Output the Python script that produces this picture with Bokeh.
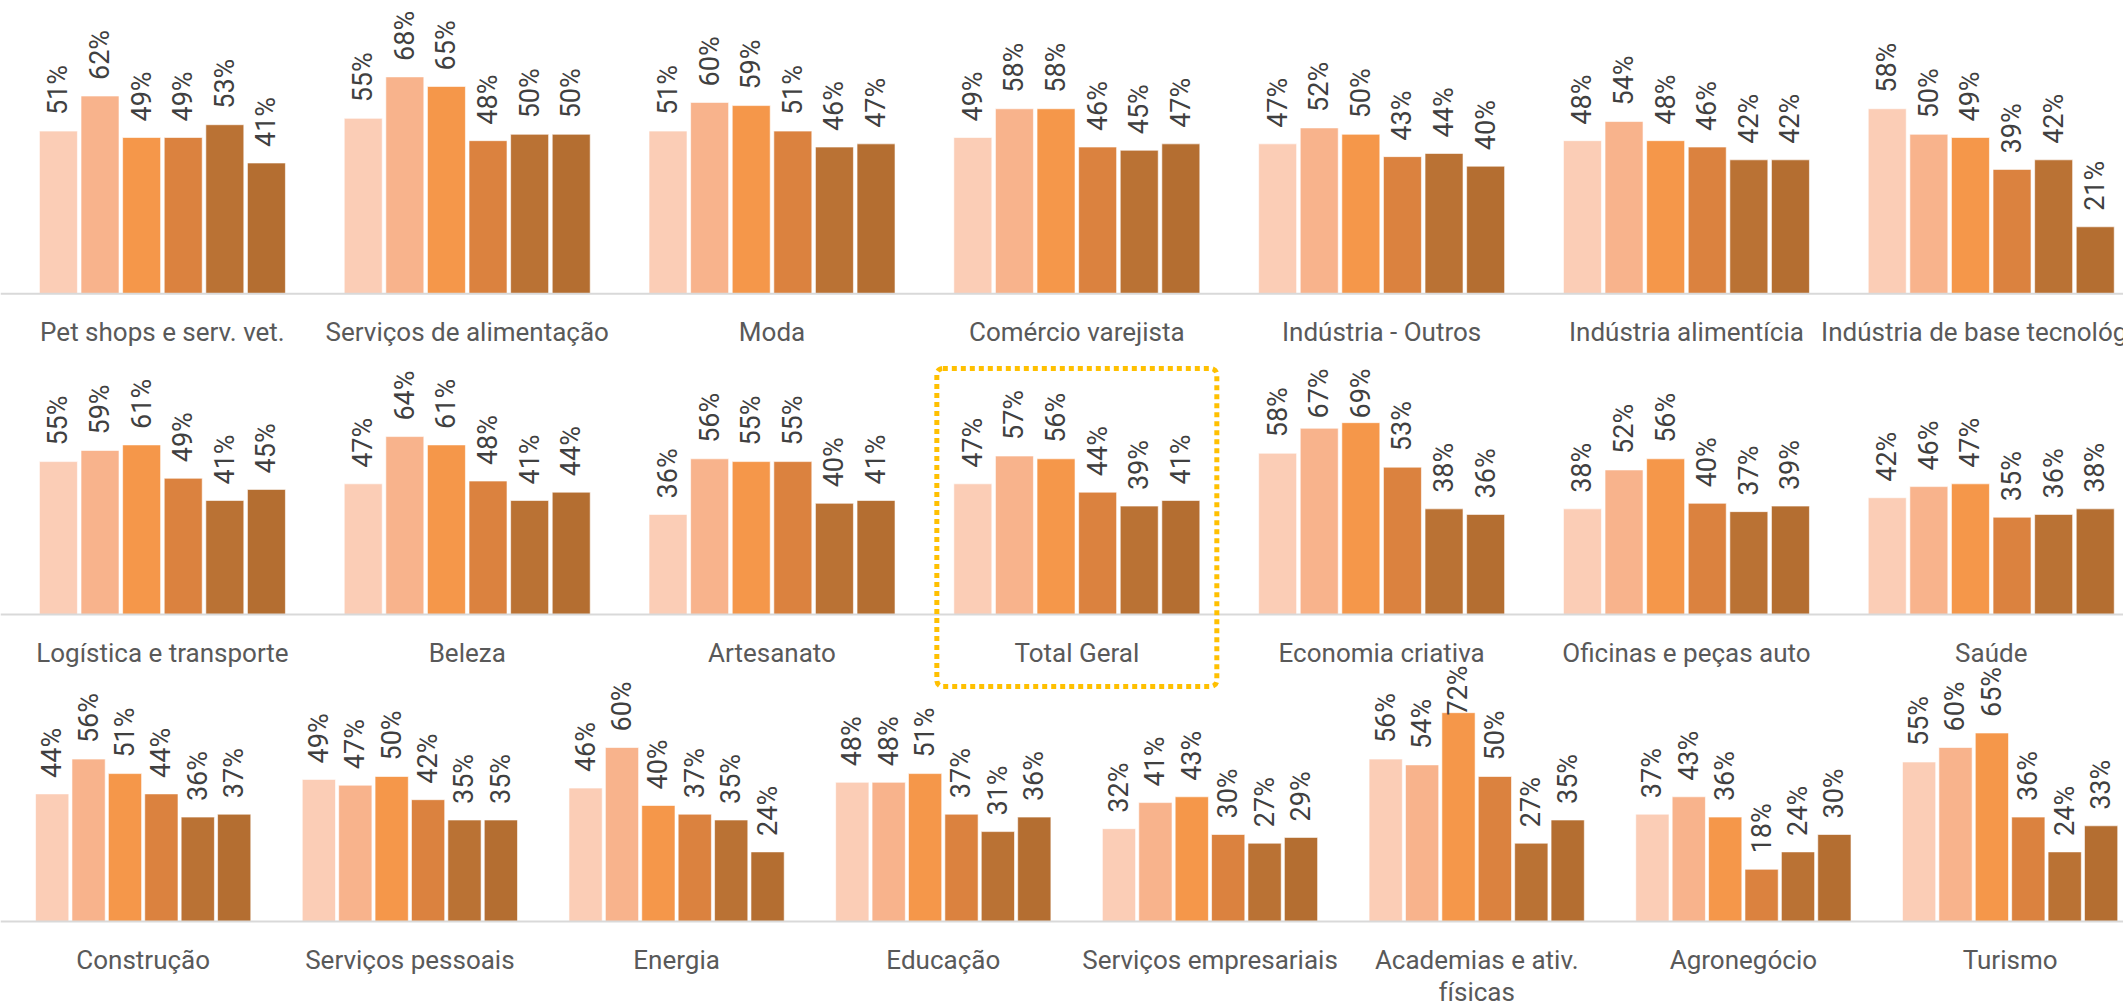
import math
from bokeh.plotting import figure
from bokeh.models import Range1d, ColumnDataSource, Span, BoxAnnotation
from bokeh.core.properties import value
from bokeh.embed import file_html
from bokeh.resources import INLINE

# ---------------- data ----------------
series = ["Série 1", "Série 2", "Série 3", "Série 4", "Série 5", "Série 6"]
colors = ["#FBCDB6", "#F8B38C", "#F5974A", "#DB823F", "#BA7234", "#B46E31"]

row1_categories = ["Pet shops e serv. vet.", "Serviços de alimentação", "Moda",
                   "Comércio varejista", "Indústria - Outros", "Indústria alimentícia",
                   "Indústria de base tecnológica"]
row1_values = [
    [0.51, 0.62, 0.49, 0.49, 0.53, 0.41],
    [0.55, 0.68, 0.65, 0.48, 0.50, 0.50],
    [0.51, 0.60, 0.59, 0.51, 0.46, 0.47],
    [0.49, 0.58, 0.58, 0.46, 0.45, 0.47],
    [0.47, 0.52, 0.50, 0.43, 0.44, 0.40],
    [0.48, 0.54, 0.48, 0.46, 0.42, 0.42],
    [0.58, 0.50, 0.49, 0.39, 0.42, 0.21],
]

row2_categories = ["Logística e transporte", "Beleza", "Artesanato", "Total Geral",
                   "Economia criativa", "Oficinas e peças auto", "Saúde"]
row2_values = [
    [0.55, 0.59, 0.61, 0.49, 0.41, 0.45],
    [0.47, 0.64, 0.61, 0.48, 0.41, 0.44],
    [0.36, 0.56, 0.55, 0.55, 0.40, 0.41],
    [0.47, 0.57, 0.56, 0.44, 0.39, 0.41],
    [0.58, 0.67, 0.69, 0.53, 0.38, 0.36],
    [0.38, 0.52, 0.56, 0.40, 0.37, 0.39],
    [0.42, 0.46, 0.47, 0.35, 0.36, 0.38],
]

row3_categories = ["Construção", "Serviços pessoais", "Energia", "Educação",
                   "Serviços empresariais", "Academias e ativ.\nfísicas", "Agronegócio", "Turismo"]
row3_values = [
    [0.44, 0.56, 0.51, 0.44, 0.36, 0.37],
    [0.49, 0.47, 0.50, 0.42, 0.35, 0.35],
    [0.46, 0.60, 0.40, 0.37, 0.35, 0.24],
    [0.48, 0.48, 0.51, 0.37, 0.31, 0.36],
    [0.32, 0.41, 0.43, 0.30, 0.27, 0.29],
    [0.56, 0.54, 0.72, 0.50, 0.27, 0.35],
    [0.37, 0.43, 0.36, 0.18, 0.24, 0.30],
    [0.55, 0.60, 0.65, 0.36, 0.24, 0.33],
]

highlight = "Total Geral"

# ---------------- layout ----------------
W, H = 2123, 1006
GROUP_PAD = 1.327
N = len(series)
GROUP_STEP = N + GROUP_PAD
LABEL_GAP = 16   # px between bar top and its label
LABEL_LEN = 49   # approx. length of a rotated "NN%" label, px
LABEL_SIZE = "27px"

rows = [
    # px per bar unit, baseline (px from top), px per 100%, top of plot area (px)
    dict(cats=row1_categories, vals=row1_values, ppu=41.6, base=293.3, scale=319.0, ptop=6),
    dict(cats=row2_categories, vals=row2_values, ppu=41.6, base=614.0, scale=278.0, ptop=369),
    dict(cats=row3_categories, vals=row3_values, ppu=36.4, base=921.0, scale=290.0, ptop=666),
]

p = figure(width=W, height=H, output_backend="svg", toolbar_location=None,
           x_range=Range1d(0, 1), y_range=Range1d(0, 1),
           x_axis_location=None, y_axis_location=None,
           min_border=0, min_border_left=0, min_border_right=0,
           min_border_top=0, min_border_bottom=0)
p.grid.visible = False
p.outline_line_color = None
p.background_fill_color = "white"
p.border_fill_color = "white"

for r, row in enumerate(rows):
    xn, yn = f"x{r}", f"y{r}"
    ppu, sc, base = row["ppu"], row["scale"], row["base"]
    x0 = -0.70 - 8 / ppu
    p.extra_x_ranges[xn] = Range1d(x0, x0 + W / ppu)
    p.extra_y_ranges[yn] = Range1d((base - H) / sc, base / sc)

    # highest possible label start so that label stays inside the plot area
    y_cap = (base - (row["ptop"] + LABEL_LEN)) / sc

    xs, tops, cols, labs, ly = [], [], [], [], []
    centers = []
    for g, cat in enumerate(row["cats"]):
        centers.append(g * GROUP_STEP + N / 2)
        for s in range(N):
            xs.append(g * GROUP_STEP + s + 0.5)
            v = row["vals"][g][s]
            tops.append(v)
            ly.append(min(v + LABEL_GAP / sc, y_cap))
            cols.append(colors[s])
            labs.append(f"{round(v * 100)}%")
    src = ColumnDataSource(dict(x=xs, top=tops, ly=ly, color=cols, lab=labs))

    p.add_layout(Span(location=0, dimension="width", y_range_name=yn,
                      line_color="#D9D9D9", line_width=2))

    p.vbar(x="x", top="top", bottom=0, width=0.913, fill_color="color",
           line_color="white", line_width=0.6, source=src,
           x_range_name=xn, y_range_name=yn)

    p.text(x="x", y="ly", text="lab", source=src, angle=math.pi / 2,
           text_align="left", text_baseline="middle",
           text_font=value("Roboto"), text_font_size=LABEL_SIZE, text_color="#404040",
           x_range_name=xn, y_range_name=yn)

    csrc = ColumnDataSource(dict(x=centers, y=[0] * len(centers), t=row["cats"]))
    p.text(x="x", y="y", text="t", source=csrc, text_align="center",
           text_baseline="top", y_offset=23, text_line_height=1.08,
           text_font=value("Roboto"), text_font_size="26px", text_color="#595959",
           x_range_name=xn, y_range_name=yn)

    if highlight in row["cats"]:
        gi = row["cats"].index(highlight)
        c = gi * GROUP_STEP + N / 2
        half = 140.0 / ppu
        box = BoxAnnotation(left=c - half, right=c + half,
                            top=(base - 368) / sc, bottom=(base - 686) / sc,
                            x_range_name=xn, y_range_name=yn,
                            fill_alpha=0, line_color="#FFC000", line_alpha=1.0,
                            line_width=5, line_dash="5 4", border_radius=6)
        p.add_layout(box)

open("out.html", "w").write(file_html(p, INLINE))
